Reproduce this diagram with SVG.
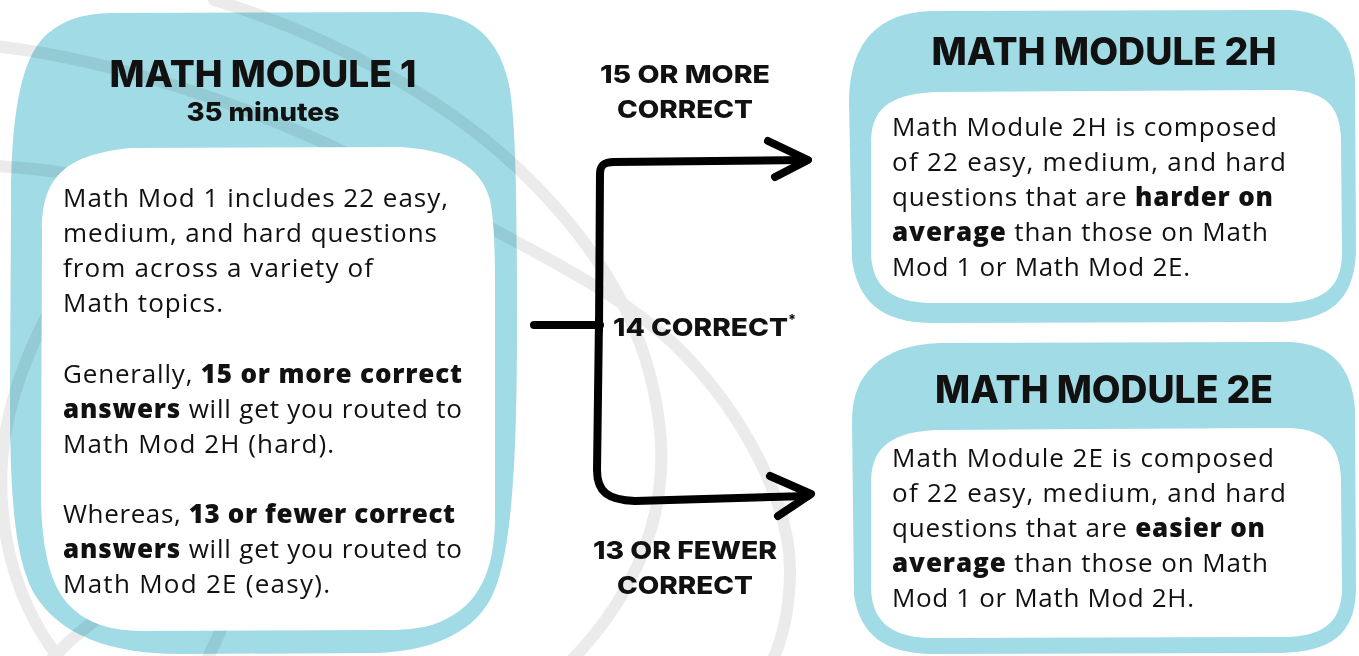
<svg xmlns="http://www.w3.org/2000/svg" width="1359" height="656" viewBox="0 0 1359 656">
<style>
.bg{fill:none;stroke:#ebebeb;stroke-width:12;stroke-linecap:round}
.outer{fill:#a1dbe6;mix-blend-mode:multiply}
.inner{fill:#ffffff}
.title{font-family:Inter,"Liberation Sans",Arial,sans-serif;font-weight:800;fill:#111;text-anchor:middle}
.body{font-family:"Open Sans","Liberation Sans",sans-serif;font-size:26px;font-weight:500;fill:#111}
.b{font-weight:800}
.lbl{font-family:Inter,"Liberation Sans",sans-serif;font-weight:800;font-size:25px;fill:#111;text-anchor:middle}
.wire{fill:none;stroke:#000;stroke-width:8;stroke-linecap:round;stroke-linejoin:round}
</style>
<rect width="1359" height="656" fill="#ffffff"/>
<g id="background-arcs">
<path class="bg" d="M214,0 C330,35 450,100 530,180 C600,250 650,330 660,430 C668,510 640,590 570,662"/>
<path class="bg" d="M-5,46 C100,58 250,100 400,180 C520,245 620,290 680,350 C740,410 790,500 790,570 C790,610 782,640 772,662"/>
<path class="bg" d="M-5,166 C80,170 160,190 250,220"/>
<path class="bg" d="M120,200 C70,270 10,360 2,460 C-3,540 20,610 62,662"/>
<path class="bg" d="M45,668 C60,648 80,630 110,610"/>
<path class="bg" d="M205,664 L228,615"/>
</g>
<g id="module1">
<path class="outer" d="M110,13 L420,12 C470,13 500,35 510,90 C516,130 517,200 517,330 C517,460 512,560 490,600 C470,635 430,650 380,653 L180,654 C110,654 60,635 35,595 C15,560 10,500 10,400 L11,200 C11,120 20,60 45,36 C65,18 85,14 110,13 Z"/>
<path class="inner" d="M130,148 L400,147 C450,150 480,165 490,200 C495,225 495,260 495,300 L495,520 C494,570 480,605 440,622 C420,630 400,630 380,630 L140,631 C90,630 62,610 50,570 C43,545 41,520 41,490 L42,230 C42,180 62,155 130,148 Z"/>
<text class="title" x="263" y="87" font-size="37" textLength="307" lengthAdjust="spacingAndGlyphs">MATH MODULE 1</text>
<text class="title" x="263" y="121" font-size="26" textLength="153" lengthAdjust="spacingAndGlyphs">35 minutes</text>
<text class="body" x="63" y="207" textLength="385">Math Mod 1 includes 22 easy,</text>
<text class="body" x="63" y="242" textLength="374">medium, and hard questions</text>
<text class="body" x="63" y="277" textLength="310">from across a variety of</text>
<text class="body" x="63" y="312" textLength="160">Math topics.</text>
<text class="body" x="63" y="383" textLength="399">Generally, <tspan class="b">15 or more correct</tspan></text>
<text class="body" x="63" y="418" textLength="399"><tspan class="b">answers</tspan> will get you routed to</text>
<text class="body" x="63" y="453" textLength="271">Math Mod 2H (hard).</text>
<text class="body" x="63" y="523" textLength="392">Whereas, <tspan class="b">13 or fewer correct</tspan></text>
<text class="body" x="63" y="558" textLength="399"><tspan class="b">answers</tspan> will get you routed to</text>
<text class="body" x="63" y="593" textLength="267">Math Mod 2E (easy).</text>
</g>
<g id="module2h">
<path class="outer" d="M930,11 L1290,10 C1330,12 1352,35 1355,80 L1356,250 C1355,300 1330,320 1280,322 L930,323 C880,322 858,300 852,260 L849,100 C850,40 880,13 930,11 Z"/>
<path class="inner" d="M940,92 L1290,90 C1325,92 1340,105 1341,140 L1342,255 C1341,290 1320,302 1285,303 L930,303 C895,302 873,290 871,255 L871,140 C872,105 895,93 940,92 Z"/>
<text class="title" x="1104" y="65" font-size="38" textLength="345" lengthAdjust="spacingAndGlyphs">MATH MODULE 2H</text>
<text class="body" x="892" y="136" textLength="385">Math Module 2H is composed</text>
<text class="body" x="892" y="171" textLength="394">of 22 easy, medium, and hard</text>
<text class="body" x="892" y="206" textLength="381">questions that are <tspan class="b">harder on</tspan></text>
<text class="body" x="892" y="241" textLength="376"><tspan class="b">average</tspan> than those on Math</text>
<text class="body" x="892" y="276" textLength="298">Mod 1 or Math Mod 2E.</text>
</g>
<g id="module2e">
<path class="outer" d="M940,343 L1290,342 C1330,344 1352,365 1355,410 L1356,590 C1355,635 1330,652 1280,653 L930,654 C885,653 860,635 854,595 L852,420 C852,375 880,345 940,343 Z"/>
<path class="inner" d="M940,430 L1290,428 C1325,430 1340,445 1341,480 L1342,590 C1341,625 1320,636 1285,637 L930,638 C895,637 873,625 871,590 L871,480 C872,445 895,431 940,430 Z"/>
<text class="title" x="1104" y="403" font-size="38" textLength="338" lengthAdjust="spacingAndGlyphs">MATH MODULE 2E</text>
<text class="body" x="892" y="467" textLength="382">Math Module 2E is composed</text>
<text class="body" x="892" y="502" textLength="394">of 22 easy, medium, and hard</text>
<text class="body" x="892" y="537" textLength="373">questions that are <tspan class="b">easier on</tspan></text>
<text class="body" x="892" y="572" textLength="376"><tspan class="b">average</tspan> than those on Math</text>
<text class="body" x="892" y="607" textLength="302">Mod 1 or Math Mod 2H.</text>
</g>
<g id="connectors">
<path class="wire" d="M534,325 L600,325"/>
<path class="wire" d="M599,330 L600,174 C600,165 604,162 614,162 L806,160"/>
<path class="wire" d="M768,141 L808,160 L775,177"/>
<path class="wire" d="M599,320 L597,470 C597,492 608,500 635,501 L808,496"/>
<path class="wire" d="M770,476 L811,494 L778,516"/>
<text class="lbl" x="685" y="83" textLength="170" lengthAdjust="spacingAndGlyphs">15 OR MORE</text>
<text class="lbl" x="685" y="118" textLength="136" lengthAdjust="spacingAndGlyphs">CORRECT</text>
<text class="lbl" x="613" y="336" style="text-anchor:start"><tspan textLength="175" lengthAdjust="spacingAndGlyphs">14 CORRECT</tspan><tspan font-size="14" dy="-11">*</tspan></text>
<text class="lbl" x="685" y="559" textLength="184" lengthAdjust="spacingAndGlyphs">13 OR FEWER</text>
<text class="lbl" x="685" y="594" textLength="136" lengthAdjust="spacingAndGlyphs">CORRECT</text>
</g>
</svg>
